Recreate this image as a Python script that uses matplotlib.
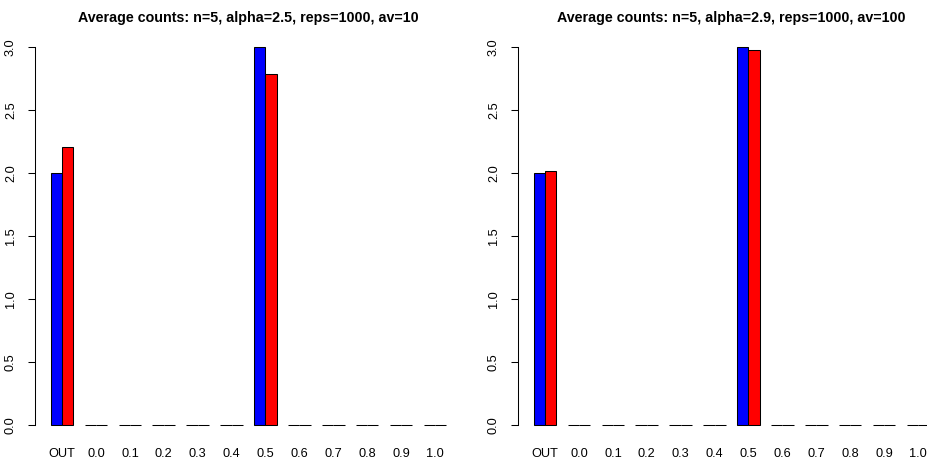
#!/usr/bin/env python3
"""Two-panel grouped barplot of average counts per bin (R barplot look)."""
import matplotlib

matplotlib.use("Agg")
import matplotlib.pyplot as plt
import numpy as np

plt.rcParams["font.family"] = ["Liberation Sans", "DejaVu Sans"]

CATEGORIES = ["OUT", "0.0", "0.1", "0.2", "0.3", "0.4", "0.5",
              "0.6", "0.7", "0.8", "0.9", "1.0"]
TITLES = [
    "Average counts: n=5, alpha=2.5, reps=1000, av=10",
    "Average counts: n=5, alpha=2.9, reps=1000, av=100",
]
# blue series (true counts) and red series (average estimated counts)
BLUE_LEFT = [2, 0, 0, 0, 0, 0, 3, 0, 0, 0, 0, 0]
RED_LEFT = [2.21, 0, 0, 0, 0, 0, 2.79, 0, 0, 0, 0, 0]
BLUE_RIGHT = [2, 0, 0, 0, 0, 0, 3, 0, 0, 0, 0, 0]
RED_RIGHT = [2.02, 0, 0, 0, 0, 0, 2.98, 0, 0, 0, 0, 0]
Y_TICKS = [0.0, 0.5, 1.0, 1.5, 2.0, 2.5, 3.0]

W, H = 927, 459
fig = plt.figure(figsize=(W / 100, H / 100), dpi=100)


def panel(rect, title, blue, red):
    ax = fig.add_axes(rect)
    n = len(CATEGORIES)
    # R barplot(beside=TRUE): groups of width 2 separated by a gap of 1
    left = 1 + 3 * np.arange(n)
    ax.bar(left, blue, width=1, align="edge", color="blue",
           edgecolor="black", linewidth=0.75)
    ax.bar(left + 1, red, width=1, align="edge", color="red",
           edgecolor="black", linewidth=0.75)
    ax.set_xlim(-0.4, 37.4)
    ax.set_ylim(-0.12, 3.12)
    ax.set_xticks(left + 1)
    ax.set_xticklabels(CATEGORIES, fontsize=9.2)
    ax.tick_params(axis="x", length=0, pad=6)
    ax.set_yticks(Y_TICKS)
    ax.set_yticklabels([f"{v:.1f}" for v in Y_TICKS], rotation=90,
                       va="center", fontsize=9.2)
    ax.tick_params(axis="y", length=5, width=0.75, pad=8)
    for s in ("top", "right", "bottom"):
        ax.spines[s].set_visible(False)
    ax.spines["left"].set_bounds(0, 3)
    ax.spines["left"].set_linewidth(0.75)
    ax.set_title(title, fontsize=10.3, fontweight="bold", pad=7)
    return ax


ax_w = 427 / W
ax_b = (H - 440) / H
ax_h = 408 / H
panel([35 / W, ax_b, ax_w, ax_h], TITLES[0], BLUE_LEFT, RED_LEFT)
panel([518 / W, ax_b, ax_w, ax_h], TITLES[1], BLUE_RIGHT, RED_RIGHT)

fig.savefig("out.png", dpi=100)
